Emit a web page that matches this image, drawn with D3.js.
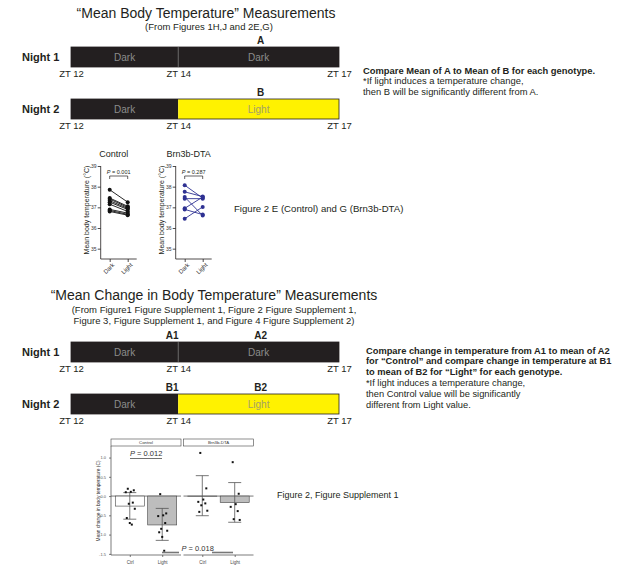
<!DOCTYPE html>
<html><head><meta charset="utf-8">
<script src="https://cdn.jsdelivr.net/npm/d3@7"></script>
<style>
body{margin:0;background:#fff}
svg{display:block;font-family:"Liberation Sans",Arial,sans-serif}
</style></head><body>
<svg id="c" width="617" height="568"></svg>
<script>
// ---------- data ----------
const ztTicks = [12, 14, 17];
const night1Phases = ["Dark", "Dark"];
const night2Phases = ["Dark", "Light"];
const sec1LabelsN1 = ["", "A"];
const sec1LabelsN2 = ["", "B"];
const sec2LabelsN1 = ["A1", "A2"];
const sec2LabelsN2 = ["B1", "B2"];
const sec1Title = "\u201CMean Body Temperature\u201D Measurements";
const sec1Sub = ["(From Figures 1H,J and 2E,G)"];
const sec2Title = "\u201CMean Change in Body Temperature\u201D Measurements";
const sec2Sub = ["(From Figure1 Figure Supplement 1, Figure 2 Figure Supplement 1,",
                 "Figure 3, Figure Supplement 1, and Figure 4 Figure Supplement 2)"];
const sec1NoteBold = ["Compare Mean of A to Mean of B for each genotype."];
const sec1Note = ["*If light induces a temperature change,", "then B will be significantly different from A."];
const sec2NoteBold = ["Compare change in temperature from A1 to mean of A2",
                      "for \u201CControl\u201D and compare change in temperature at B1",
                      "to mean of B2 for \u201CLight\u201D for each genotype."];
const sec2Note = ["*If light induces a temperature change,", "then Control value will be significantly", "different from Light value."];

const pairConditions = ["Dark", "Light"];
const tempTicks = [35, 36, 37, 38, 39];
const controlDark  = [37.85, 37.45, 37.4, 37.32, 37.25, 37.15, 36.9, 36.85, 36.8];
const controlLight = [37.25, 37.05, 37.0, 36.95, 36.9, 36.8, 36.72, 36.66, 36.62];
const dtaDark  = [38.07, 37.75, 37.5, 37.42, 36.95, 36.9, 36.45];
const dtaLight = [37.45, 37.52, 36.6, 37.42, 37.5, 36.65, 37.02];
const pairP = ["P = 0.001", "P = 0.287"];
const pairTitles = ["Control", "Brn3b-DTA"];
const fig1Caption = "Figure 2 E (Control) and G (Brn3b-DTA)";

const facetNames = ["Control", "Brn3b-DTA"];
const changeConditions = ["Ctrl", "Light"];
const changeTicks = [1.0, 0.5, 0.0, -0.5, -1.0, -1.5];
const controlMeans = [-0.26, -0.75];
const controlErrLow = [-0.6, -1.15];
const controlErrHigh = [0.09, -0.32];
const dtaMeans = [-0.01, -0.17];
const dtaErrLow = [-0.51, -0.68];
const dtaErrHigh = [0.53, 0.35];
const controlCtrlPts = [0.19, 0.15, 0.11, 0.1, -0.17, -0.2, -0.33, -0.57, -0.7, -0.74];
const controlLightPts = [0.05, -0.45, -0.5, -0.52, -0.7, -0.85, -0.9, -0.94, -1.06, -1.42];
const dtaCtrlPts = [1.12, 0.2, -0.09, -0.15, -0.19, -0.24, -0.38, -0.41];
const dtaLightPts = [0.88, 0.06, -0.21, -0.28, -0.39, -0.6, -0.62];
const changeP = ["P = 0.012", "P = 0.018"];
const fig2Caption = "Figure 2, Figure Supplement 1";

// ---------- drawing ----------
const svg = d3.select("#c");
svg.append("rect").attr("width", 617).attr("height", 568).attr("fill", "#fff");

function textLines(lines, x, y0, dy, opts) {
  lines.forEach((t, i) => {
    svg.append("text").attr("x", x).attr("y", y0 + i * dy)
      .attr("font-size", opts.size).attr("font-weight", opts.weight || "normal")
      .attr("text-anchor", opts.anchor || "start").attr("fill", opts.fill || "#231f20")
      .text(t);
  });
}

const xT = d3.scaleLinear().domain([12, 17]).range([71, 339]);
const phaseFill = { Dark: "#231f20", Light: "#fff200" };
const phaseText = { Dark: "#8c8c8c", Light: "#a39f6a" };

function timeline(top, nightLabel, phases, labels) {
  const g = svg.append("g");
  const segs = phases.map((p, i) => ({ p, a: ztTicks[i], b: ztTicks[i + 1], lab: labels[i], i }));
  g.selectAll("rect.seg").data(segs).join("rect")
    .attr("x", d => xT(d.a)).attr("y", top).attr("width", d => xT(d.b) - xT(d.a)).attr("height", 20)
    .attr("fill", d => phaseFill[d.p]);
  g.append("rect").attr("x", xT(12)).attr("y", top).attr("width", xT(17) - xT(12)).attr("height", 20)
    .attr("fill", "none").attr("stroke", "#231f20").attr("stroke-width", 0.8);
  if (phases[0] === phases[1]) {
    g.append("line").attr("x1", xT(14)).attr("x2", xT(14)).attr("y1", top).attr("y2", top + 20)
      .attr("stroke", "#6a6a6a").attr("stroke-width", 0.8);
  }
  g.selectAll("text.ph").data(segs).join("text")
    .attr("x", d => (xT(d.a) + xT(d.b)) / 2).attr("y", top + 13.5)
    .attr("text-anchor", "middle").attr("font-size", 10).attr("fill", d => phaseText[d.p])
    .text(d => d.p);
  g.selectAll("text.lab").data(segs.filter(d => d.lab)).join("text")
    .attr("x", d => d.i === 0 ? xT(d.b) - 6 : (xT(d.a) + xT(d.b)) / 2 + 2)
    .attr("y", top - 3.5).attr("text-anchor", "middle").attr("font-size", 10).attr("font-weight", "bold")
    .attr("fill", "#231f20").text(d => d.lab);
  g.append("text").attr("x", 22).attr("y", top + 13.5).attr("font-size", 11).attr("font-weight", "bold")
    .attr("fill", "#231f20").text(nightLabel);
  const ax = g.append("g").attr("transform", `translate(0,${top + 20})`)
    .call(d3.axisBottom(xT).tickValues(ztTicks).tickFormat(d => "ZT " + d).tickSize(0).tickPadding(3));
  ax.select(".domain").remove();
  ax.selectAll("text").attr("font-size", 9.5).attr("fill", "#231f20").attr("font-family", "Liberation Sans, Arial, sans-serif");
}

// Section 1
svg.append("text").attr("x", 206).attr("y", 17.5).attr("text-anchor", "middle").attr("font-size", 14)
  .attr("fill", "#231f20").text(sec1Title);
textLines(sec1Sub, 209, 29.5, 11, { size: 9.5, anchor: "middle" });
timeline(47, "Night 1", night1Phases, sec1LabelsN1);
timeline(99, "Night 2", night2Phases, sec1LabelsN2);
textLines(sec1NoteBold, 363, 73.5, 11, { size: 9.4, weight: "bold" });
textLines(sec1Note, 363, 84, 11, { size: 9.4 });

// Section 2
svg.append("text").attr("x", 214).attr("y", 300).attr("text-anchor", "middle").attr("font-size", 14)
  .attr("fill", "#231f20").text(sec2Title);
textLines(sec2Sub, 214, 312.5, 11.5, { size: 9.5, anchor: "middle" });
timeline(342, "Night 1", night1Phases, sec2LabelsN1);
timeline(394, "Night 2", night2Phases, sec2LabelsN2);
textLines(sec2NoteBold, 366, 353.5, 10.8, { size: 9.3, weight: "bold" });
textLines(sec2Note, 366, 386, 10.8, { size: 9.3 });

// Paired mini charts
const yT = d3.scaleLinear().domain([34.5, 39]).range([259, 166]);
const xP = d3.scalePoint().domain(pairConditions).range([0, 36]).padding(0.5);
function pairPanel(x0, darkVals, lightVals, color, title, pText) {
  const g = svg.append("g").attr("transform", `translate(${x0},0)`);
  const ya = g.append("g").call(d3.axisLeft(yT).tickValues(tempTicks).tickFormat(d3.format("d"))
    .tickSize(3).tickSizeOuter(0).tickPadding(1.2));
  ya.select(".domain").attr("d", `M0,${yT(39)}V${yT(34.5)}`);
  ya.selectAll("text").attr("font-size", 5).attr("fill", "#333");
  ya.selectAll("line,path").attr("stroke", "#231f20").attr("stroke-width", 0.8);
  const xa = g.append("g").attr("transform", `translate(0,${yT(34.5)})`)
    .call(d3.axisBottom(xP).tickSize(3).tickSizeOuter(0));
  xa.select(".domain").attr("d", "M0,0H36");
  xa.selectAll("line,path").attr("stroke", "#231f20").attr("stroke-width", 0.8);
  xa.selectAll("text").attr("font-size", 6).attr("fill", "#333")
    .attr("text-anchor", "end").attr("dx", "-0.2em").attr("dy", "0.3em").attr("transform", "rotate(-45)");
  const pairs = darkVals.map((d, i) => ({ d, l: lightVals[i] }));
  g.selectAll("line.pr").data(pairs).join("line")
    .attr("x1", xP("Dark")).attr("x2", xP("Light")).attr("y1", p => yT(p.d)).attr("y2", p => yT(p.l))
    .attr("stroke", color).attr("stroke-width", 0.9);
  g.selectAll("circle.dk").data(darkVals).join("circle").attr("cx", xP("Dark")).attr("cy", d => yT(d)).attr("r", 2).attr("fill", color);
  g.selectAll("circle.lt").data(lightVals).join("circle").attr("cx", xP("Light")).attr("cy", d => yT(d)).attr("r", 2).attr("fill", color);
  g.append("path").attr("d", `M${xP("Dark")},179V176H${xP("Light")}V179`).attr("fill", "none").attr("stroke", "#231f20").attr("stroke-width", 0.7);
  const pt = g.append("text").attr("x", (xP("Dark") + xP("Light")) / 2).attr("y", 174).attr("text-anchor", "middle")
    .attr("font-size", 5.5).attr("fill", "#231f20");
  pt.append("tspan").attr("font-style", "italic").text(pText.slice(0, 1));
  pt.append("tspan").text(pText.slice(1));
  g.append("text").attr("x", 13).attr("y", 157).attr("text-anchor", "middle").attr("font-size", 9).attr("fill", "#231f20").text(title);
  g.append("text").attr("transform", `translate(-11.5,210) rotate(-90)`).attr("text-anchor", "middle")
    .attr("font-size", 7).attr("fill", "#231f20").text("Mean body temperature (\u00B0C)");
}
pairPanel(100.7, controlDark, controlLight, "#111", pairTitles[0], pairP[0]);
pairPanel(175.7, dtaDark, dtaLight, "#2e3192", pairTitles[1], pairP[1]);
svg.append("text").attr("x", 234).attr("y", 211.5).attr("font-size", 9.6).attr("fill", "#231f20").text(fig1Caption);

// Change chart (faceted)
const yC = d3.scaleLinear().domain([-1.53, 1.3]).range([555, 446]);
const xC = d3.scalePoint().domain(changeConditions).range([0, 70]).padding(0.58);
const jit = [-2, 4, 1, -4, 3, -1, 5, -3, 0, 2];
function changePanel(x0, name, means, lo, hi, ptsCtrl, ptsLight, first) {
  const g = svg.append("g").attr("transform", `translate(${x0},0)`);
  g.append("rect").attr("x", 0).attr("y", 439).attr("width", 70).attr("height", 7)
    .attr("fill", "#fff").attr("stroke", "#444").attr("stroke-width", 0.6);
  g.append("text").attr("x", 35).attr("y", 444.2).attr("text-anchor", "middle").attr("font-size", 4.3).attr("fill", "#333").text(name);
  g.append("line").attr("x1", 0).attr("x2", 70).attr("y1", yC(0)).attr("y2", yC(0)).attr("stroke", "#555").attr("stroke-width", 0.8);
  const bars = changeConditions.map((c, i) => ({ c, m: means[i], lo: lo[i], hi: hi[i] }));
  g.selectAll("rect.bar").data(bars).join("rect")
    .attr("x", d => xC(d.c) - 14.5).attr("width", 29)
    .attr("y", d => yC(Math.max(0, d.m))).attr("height", d => Math.abs(yC(d.m) - yC(0)))
    .attr("fill", d => d.c === "Ctrl" ? "#fff" : "#bdbdbd").attr("stroke", "#444").attr("stroke-width", 0.6);
  const eb = g.selectAll("g.eb").data(bars).join("g");
  eb.append("line").attr("x1", d => xC(d.c)).attr("x2", d => xC(d.c)).attr("y1", d => yC(d.hi)).attr("y2", d => yC(d.lo))
    .attr("stroke", "#555").attr("stroke-width", 0.8);
  eb.append("line").attr("x1", d => xC(d.c) - 6.5).attr("x2", d => xC(d.c) + 6.5).attr("y1", d => yC(d.hi)).attr("y2", d => yC(d.hi))
    .attr("stroke", "#555").attr("stroke-width", 0.8);
  eb.append("line").attr("x1", d => xC(d.c) - 6.5).attr("x2", d => xC(d.c) + 6.5).attr("y1", d => yC(d.lo)).attr("y2", d => yC(d.lo))
    .attr("stroke", "#555").attr("stroke-width", 0.8);
  [[ptsCtrl, "Ctrl"], [ptsLight, "Light"]].forEach(([pts, c]) => {
    g.selectAll(null).data(pts).join("rect")
      .attr("x", (d, i) => xC(c) + jit[i % jit.length] - 1).attr("y", d => yC(d) - 1)
      .attr("width", 2).attr("height", 2).attr("fill", "#111");
  });
  const xa = g.append("g").attr("transform", `translate(0,555)`).call(d3.axisBottom(xC).tickSize(2).tickSizeOuter(0));
  xa.select(".domain").attr("d", "M0,0H70");
  xa.selectAll("line,path").attr("stroke", "#444").attr("stroke-width", 0.7);
  xa.selectAll("text").attr("font-size", 4.5).attr("fill", "#444").attr("dy", "0.9em");
  if (first) {
    const ya = g.append("g").call(d3.axisLeft(yC).tickValues(changeTicks).tickSize(2).tickSizeOuter(0).tickFormat(d => d.toFixed(1)));
    ya.select(".domain").attr("d", "M0,446V555");
    ya.selectAll("line,path").attr("stroke", "#444").attr("stroke-width", 0.7);
    ya.selectAll("text").attr("font-size", 4).attr("fill", "#555");
  }
}
changePanel(111, facetNames[0], controlMeans, controlErrLow, controlErrHigh, controlCtrlPts, controlLightPts, true);
changePanel(183.5, facetNames[1], dtaMeans, dtaErrLow, dtaErrHigh, dtaCtrlPts, dtaLightPts, false);
svg.append("text").attr("transform", "translate(100,501) rotate(-90)").attr("text-anchor", "middle")
  .attr("font-size", 4.8).attr("fill", "#333").text("Mean change in body temperature (C)");

function pLabel(x, y, t) {
  const tx = svg.append("text").attr("x", x).attr("y", y).attr("font-size", 7.5).attr("fill", "#333");
  tx.append("tspan").attr("font-style", "italic").text(t.slice(0, 1));
  tx.append("tspan").text(t.slice(1));
}
pLabel(130, 456, changeP[0]);
svg.append("line").attr("x1", 130).attr("x2", 162).attr("y1", 458.5).attr("y2", 458.5).attr("stroke", "#333").attr("stroke-width", 0.7);
pLabel(181.5, 551, changeP[1]);
svg.append("line").attr("x1", 162).attr("x2", 179).attr("y1", 552.5).attr("y2", 552.5).attr("stroke", "#777").attr("stroke-width", 1.6);
svg.append("line").attr("x1", 212).attr("x2", 233).attr("y1", 552.5).attr("y2", 552.5).attr("stroke", "#777").attr("stroke-width", 1.6);
svg.append("text").attr("x", 277).attr("y", 498).attr("font-size", 9).attr("fill", "#231f20").text(fig2Caption);
</script>
</body></html>
